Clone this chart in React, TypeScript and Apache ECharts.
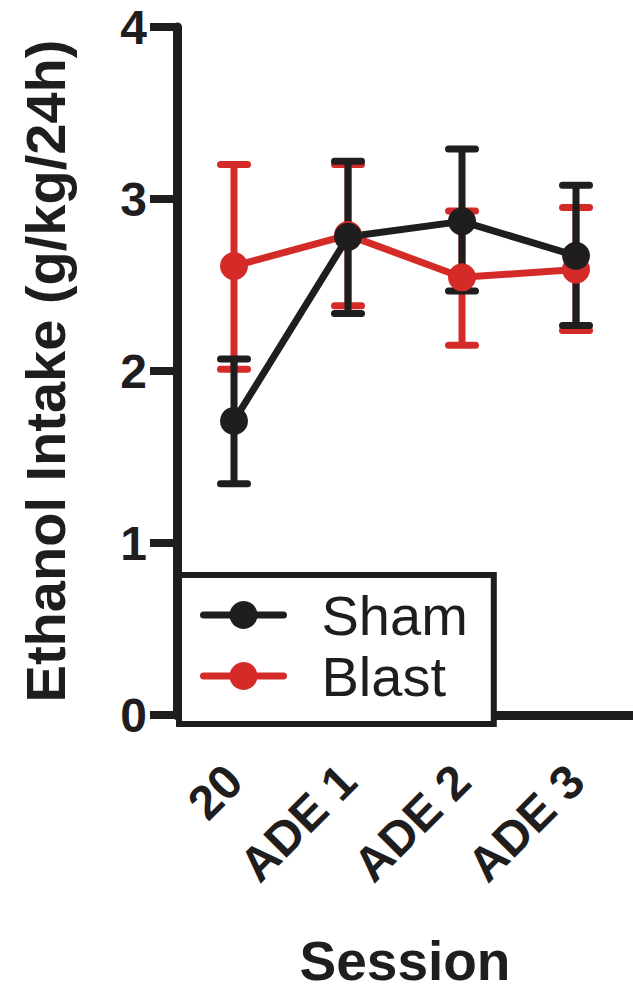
import React, { useEffect, useRef } from "react";
import * as echarts from "echarts";

const categories = ["20", "ADE 1", "ADE 2", "ADE 3"];
const yTicks = [0, 1, 2, 3, 4];

const shamMean = [1.71, 2.78, 2.87, 2.67];
const shamUpper = [2.07, 3.22, 3.29, 3.08];
const shamLower = [1.345, 2.335, 2.465, 2.265];

const blastMean = [2.61, 2.79, 2.545, 2.59];
const blastUpper = [3.2, 3.2, 2.93, 2.95];
const blastLower = [2.01, 2.38, 2.15, 2.235];

const BLACK = "#1f1d1d";
const RED = "#d52b28";
const FONT = "Liberation Sans, Arial, Helvetica, sans-serif";

function errorSeries(color: string, lower: number[], upper: number[]) {
  return {
    type: "custom",
    data: lower.map((l, i) => [i, l, upper[i]]),
    encode: { x: 0, y: [1, 2] },
    renderItem: (params: any, api: any) => {
      const x = api.value(0);
      const lo = api.coord([x, api.value(1)]);
      const hi = api.coord([x, api.value(2)]);
      const half = 13.5;
      const st = { stroke: color, lineWidth: 7, lineCap: "round" };
      return {
        type: "group",
        children: [
          { type: "line", shape: { x1: lo[0], y1: lo[1], x2: hi[0], y2: hi[1] }, style: { stroke: color, lineWidth: 7 } },
          { type: "line", shape: { x1: hi[0] - half, y1: hi[1], x2: hi[0] + half, y2: hi[1] }, style: st },
          { type: "line", shape: { x1: lo[0] - half, y1: lo[1], x2: lo[0] + half, y2: lo[1] }, style: st },
        ],
      };
    },
  };
}

function lineSeries(name: string, color: string, values: number[]) {
  return {
    type: "line",
    name,
    data: values,
    symbol: "circle",
    symbolSize: 28,
    lineStyle: { color, width: 7 },
    itemStyle: { color },
  };
}

export default function App() {
  const ref = useRef<HTMLDivElement>(null);
  useEffect(() => {
    if (!ref.current) return;
    const chart = echarts.init(ref.current, null, { renderer: "svg" });
    chart.setOption({
      animation: false,
      backgroundColor: "#ffffff",
      grid: { left: 177, top: 27, width: 468, height: 697 },
      xAxis: {
        type: "category",
        data: categories,
        name: "Session",
        nameLocation: "middle",
        nameGap: 218,
        nameTextStyle: { fontSize: 55, fontWeight: "bold", color: BLACK, fontFamily: FONT },
        axisLine: { lineStyle: { color: BLACK, width: 9 } },
        axisTick: { alignWithLabel: true, length: 29, lineStyle: { color: BLACK, width: 9 } },
        axisLabel: {
          interval: 0,
          rotate: 45,
          margin: 58,
          fontSize: 48,
          fontWeight: "bold",
          color: BLACK,
          fontFamily: FONT,
        },
      },
      yAxis: {
        type: "value",
        min: yTicks[0],
        max: yTicks[yTicks.length - 1],
        interval: 1,
        name: "Ethanol Intake (g/kg/24h)",
        nameLocation: "middle",
        nameGap: 104,
        nameTextStyle: { fontSize: 56, fontWeight: "bold", color: BLACK, fontFamily: FONT },
        splitLine: { show: false },
        axisLine: { show: true, lineStyle: { color: BLACK, width: 9 } },
        axisTick: { show: true, length: 27, lineStyle: { color: BLACK, width: 8 } },
        axisLabel: { margin: 30, fontSize: 48, lineHeight: 48, fontWeight: "bold", color: BLACK, fontFamily: FONT },
      },
      legend: {
        data: ["Sham", "Blast"],
        orient: "vertical",
        left: 179,
        top: 575,
        padding: [12, 26, 20, 21],
        borderColor: BLACK,
        borderWidth: 6,
        backgroundColor: "#ffffff",
        itemWidth: 80,
        itemHeight: 35,
        itemGap: 5,
        lineStyle: { width: 7, cap: "round" },
        textStyle: { fontSize: 56, color: BLACK, fontFamily: FONT, padding: [0, 0, 0, 33] },
      },
      series: [
        errorSeries(RED, blastLower, blastUpper),
        lineSeries("Blast", RED, blastMean),
        errorSeries(BLACK, shamLower, shamUpper),
        lineSeries("Sham", BLACK, shamMean),
      ],
    });
    return () => chart.dispose();
  }, []);
  return (
    <div
      ref={ref}
      style={{ position: "fixed", left: 0, top: 0, width: 633, height: 993 }}
    />
  );
}
